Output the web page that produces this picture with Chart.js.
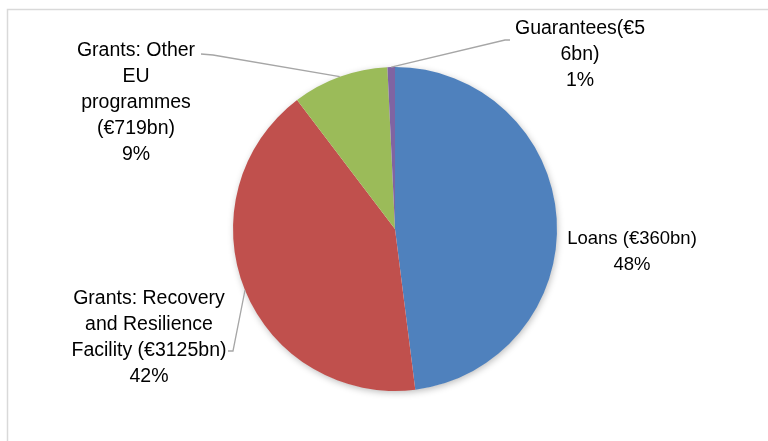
<!DOCTYPE html>
<html>
<head>
<meta charset="utf-8">
<script src="https://cdn.jsdelivr.net/npm/chart.js@4/dist/chart.umd.min.js"></script>
<style>
html,body{margin:0;padding:0;background:#fff;}
#wrap{width:768px;height:441px;position:relative;}
</style>
</head>
<body>
<div id="wrap"><canvas id="c" width="768" height="441"></canvas></div>
<script>
// ---- data ----
const categories = ['Loans (€360bn)', 'Grants: Recovery and Resilience Facility (€3125bn)', 'Grants: Other EU programmes (€719bn)', 'Guarantees(€5 6bn)'];
const values = [360, 312.5, 71.9, 5.6];
const percentLabels = ['48%', '42%', '9%', '1%'];
const labelLines = [
  ['Loans (€360bn)'],
  ['Grants: Recovery', 'and Resilience', 'Facility (€3125bn)'],
  ['Grants: Other', 'EU', 'programmes', '(€719bn)'],
  ['Guarantees(€5', '6bn)']
];
const colors = ['#4F81BD', '#C0504D', '#9BBB59', '#8064A2'];

// ---- layout (label placement) ----
const labelPos = [
  {x: 632, y: 239, size: 18.5},
  {x: 149, y: 299, size: 19.5},
  {x: 136, y: 51, size: 19.5},
  {x: 580, y: 29, size: 19.5}
];
const leader = [
  null,
  {sx: 228, sy: 351, ex: 233, ey: 351},
  {sx: 201, sy: 54, ex: 213, ey: 55},
  {sx: 510, sy: 40, ex: 505, ey: 40}
];
const lineH = 26;

const decor = {
  id: 'decor',
  beforeDraw(chart) {
    const ctx = chart.ctx;
    ctx.save();
    ctx.strokeStyle = '#d9d9d9';
    ctx.lineWidth = 1.5;
    ctx.beginPath();
    ctx.moveTo(7.5, 445);
    ctx.lineTo(7.5, 9.5);
    ctx.lineTo(770, 9.5);
    ctx.stroke();
    ctx.restore();
  },
  beforeDatasetsDraw(chart) {
    const arc = chart.getDatasetMeta(0).data[0];
    if (!arc) return;
    const ctx = chart.ctx;
    ctx.save();
    ctx.shadowColor = 'rgba(0,0,0,0.28)';
    ctx.shadowBlur = 7;
    ctx.shadowOffsetX = 1;
    ctx.shadowOffsetY = 2;
    ctx.fillStyle = '#ffffff';
    ctx.beginPath();
    ctx.arc(arc.x, arc.y, arc.outerRadius - 0.5, 0, Math.PI * 2);
    ctx.fill();
    ctx.restore();
  },
  afterDatasetsDraw(chart) {
    const ctx = chart.ctx;
    const arcs = chart.getDatasetMeta(0).data;
    ctx.save();
    // leader lines
    ctx.strokeStyle = '#a6a6a6';
    ctx.lineWidth = 1.3;
    arcs.forEach((a, i) => {
      const L = leader[i];
      if (!L) return;
      const mid = (a.startAngle + a.endAngle) / 2;
      const px = a.x + Math.cos(mid) * a.outerRadius;
      const py = a.y + Math.sin(mid) * a.outerRadius;
      ctx.beginPath();
      ctx.moveTo(L.sx, L.sy);
      ctx.lineTo(L.ex, L.ey);
      ctx.lineTo(px, py);
      ctx.stroke();
    });
    // labels
    ctx.fillStyle = '#000';
    ctx.textAlign = 'center';
    ctx.textBaseline = 'middle';
    labelLines.forEach((lines, i) => {
      ctx.font = labelPos[i].size + 'px "Liberation Sans", Arial, sans-serif';
      const all = lines.concat([percentLabels[i]]);
      all.forEach((t, k) => {
        ctx.fillText(t, labelPos[i].x, labelPos[i].y + k * lineH);
      });
    });
    ctx.restore();
  }
};

new Chart(document.getElementById('c'), {
  type: 'pie',
  data: {
    labels: categories,
    datasets: [{
      data: values,
      backgroundColor: colors,
      borderWidth: 0,
      hoverOffset: 0
    }]
  },
  options: {
    responsive: false,
    animation: false,
    layout: {padding: {top: 67, bottom: 50, left: 233, right: 211}},
    plugins: {legend: {display: false}, tooltip: {enabled: false}}
  },
  plugins: [decor]
});
</script>
</body>
</html>
